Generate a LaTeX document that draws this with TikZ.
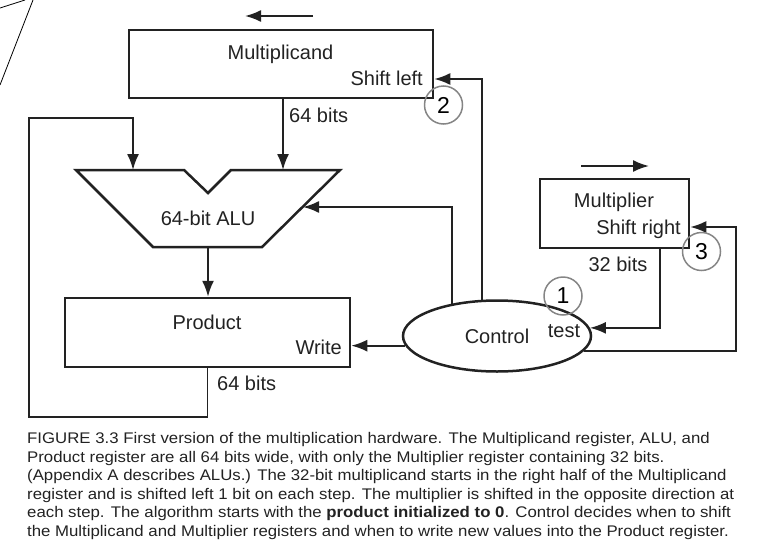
\documentclass[tikz,border=0pt]{standalone}
\usepackage{fontspec}
\setmainfont{Liberation Sans}
\newfontfamily\capfont[FakeStretch=1.09]{Liberation Sans}
\usetikzlibrary{arrows.meta,shapes.geometric}
\definecolor{ink}{HTML}{222222}
\definecolor{ringgray}{HTML}{858585}
\begin{document}
\begin{tikzpicture}[x=1pt,y=-1pt,
  reg/.style={draw=ink, line width=2.5pt, inner sep=0pt},
  lbl/.style={text=ink, font=\fontsize{20}{24}\selectfont, inner sep=0pt},
  wire/.style={draw=ink, line width=1.9pt},
  arr/.style={wire, -{Latex[length=16pt,width=12pt]}},
  ring/.style={circle, draw=ringgray, line width=1.5pt, minimum size=38pt, inner sep=0pt, font=\fontsize{23}{24}\selectfont, text=black},
  capline/.style={anchor=base west, inner sep=0pt, text=ink, font=\capfont\fontsize{15.4}{18.6}\selectfont}]
\useasboundingbox (0,0) rectangle (762,546);
% corner marks
\draw[black, line width=0.8pt] (0,8) -- (25,0);
\draw[black, line width=0.8pt] (33,0) -- (0,85);
% registers
\node[reg, minimum width=304pt, minimum height=68pt] (mcand) at (281,64) {};
\node[reg, minimum width=285pt, minimum height=69pt] (prod) at (207.5,332.5) {};
\node[reg, minimum width=149pt, minimum height=69pt] (mplier) at (614.5,213.5) {};
\node[reg, ellipse, minimum width=188pt, minimum height=71pt, lbl] (ctrl) at (497,336) {Control};
% ALU
\draw[ink, line width=2.5pt, line join=miter] (76,170) -- (184,170) -- (208,193) -- (231,170) -- (340,170) -- (262,247) -- (153,247) -- cycle;
\node[lbl] (alulbl) at (208,218) {64-bit ALU};
\coordinate (aluA) at (133,170);
\coordinate (aluB) at (283,170);
\coordinate (aluR) at (303,207);
\coordinate (aluOut) at (208,247);
\coordinate (loopL) at (29,417);
\coordinate (loopT) at (29,118);
\coordinate (rr) at (736,227);
% labels
\node[lbl, anchor=base] (tmc) at (280.5,59) {Multiplicand};
\node[lbl, anchor=base east] (tsl) at (423,85) {Shift left};
\node[lbl, anchor=base west] (tb1) at (289,122) {64 bits};
\node[lbl, anchor=base] (tpr) at (207,329) {Product};
\node[lbl, anchor=base east] (twr) at (342,354) {Write};
\node[lbl, anchor=base west] (tb2) at (217,390) {64 bits};
\node[lbl, anchor=base] (tmp) at (614,207) {Multiplier};
\node[lbl, anchor=base east] (tsr) at (681,234) {Shift right};
\node[lbl, anchor=base] (tb3) at (618,271) {32 bits};
\node[lbl, anchor=base] (ttest) at (564,337) {test};
% direction arrows
\coordinate (la1) at (313,16);
\coordinate (la2) at (245,16);
\coordinate (ra1) at (581,166);
\coordinate (ra2) at (649,166);
\draw[arr] (la1) -- (la2);
\draw[arr] (ra1) -- (ra2);
% connectors
\draw[arr] (mcand.south -| aluB) -- (aluB);
\draw[arr] (prod.south) |- (loopL) -- (loopT) -| (aluA);
\draw[arr] (aluOut) -- (aluOut |- prod.north);
\draw[arr] (ctrl.144.5) |- (aluR);
\draw[arr] (ctrl.113.2) |- ([yshift=-15pt]mcand.east);
\draw[arr] (ctrl.186.3) -- (ctrl.186.3 -| prod.east);
\draw[arr] ([xshift=45.5pt]mplier.south) |- (ctrl.5);
\draw[arr] (ctrl.350) -| (rr) -- (rr -| mplier.east);
% step rings
\node[ring] (s2) at (443.5,105) {2};
\node[ring] (s1) at (563,296) {1};
\node[ring] (s3) at (701.5,251.5) {3};
% caption
\node[capline] (cap1) at (27,443.5) {FIGURE 3.3 First version of the multiplication hardware. The Multiplicand register, ALU, and};
\node[capline] (cap2) at (27,462.1) {Product register are all 64 bits wide, with only the Multiplier register containing 32 bits.};
\node[capline] (cap3) at (27,480.7) {(Appendix A describes ALUs.) The 32-bit multiplicand starts in the right half of the Multiplicand};
\node[capline] (cap4) at (27,499.3) {register and is shifted left 1 bit on each step. The multiplier is shifted in the opposite direction at};
\node[capline] (cap5) at (27,517.9) {each step. The algorithm starts with the \textbf{product initialized to 0}. Control decides when to shift};
\node[capline] (cap6) at (27,536.5) {the Multiplicand and Multiplier registers and when to write new values into the Product register.};
\end{tikzpicture}
\end{document}
